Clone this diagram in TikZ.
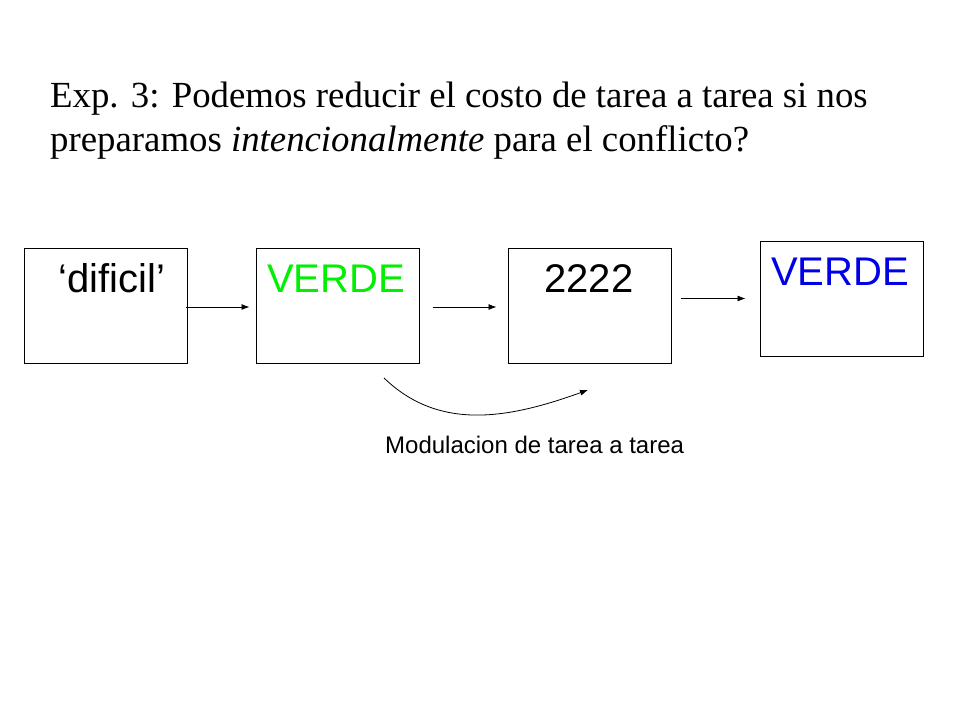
\documentclass[tikz,border=0pt]{standalone}
\usepackage{fontspec}
\setmainfont{Liberation Serif}
\setsansfont{Liberation Sans}
\usetikzlibrary{positioning,arrows.meta}
\definecolor{verdeC}{RGB}{0,240,0}
\definecolor{azulC}{RGB}{0,0,230}
\tikzset{
	caja/.style={draw,line width=1pt,minimum width=163pt,minimum height=115pt,inner sep=0pt},
	palabra/.style={anchor=base,inner sep=0pt,font=\sffamily\fontsize{40}{40}\selectfont},
	titulo/.style={anchor=base west,inner sep=0pt,font=\fontsize{36.8}{44}\selectfont},
}
\begin{document}
\begin{tikzpicture}[x=1pt,y=-1pt,>={Latex[length=8pt,width=6pt]}]
		\useasboundingbox (0,0) rectangle (960,720);
		\node[titulo] (tit1) at (50,107) {Exp. 3: Podemos reducir el costo de tarea a tarea si nos};
		\node[titulo] (tit2) at (50,151) {preparamos \textit{intencionalmente} para el conflicto?};
		\node[caja] (b1) at (105.5,305.5) {};
		\node[caja] (b2) at (337.5,305.5) {};
		\node[caja] (b3) at (589.5,305.5) {};
		\node[caja] (b4) at (841.5,298.5) {};
		\node[palabra] (w1) at (112,292) {‘dificil’};
		\node[palabra,text=verdeC] (w2) at (336,292) {VERDE};
		\node[palabra] (w3) at (589,292) {2222};
		\node[palabra,text=azulC] (w4) at (840,285) {VERDE};
		\draw[->,line width=0.8pt] ([xshift=-2pt,yshift=-1.5pt]b1.east) -- ([xshift=-6pt,yshift=-1.5pt]b2.west);
		\draw[->,line width=0.8pt] ([xshift=13pt,yshift=-1.5pt]b2.east) -- ([xshift=-11pt,yshift=-1.5pt]b3.west);
		\draw[->,line width=0.8pt] ([xshift=9pt]b3.east |- b4.west) -- ([xshift=-14pt]b4.west);
		\coordinate (m1) at (384,378);
		\coordinate (m2) at (588,390);
		\draw[->,line width=0.8pt] (m1) .. controls (440,432) and (510,418) .. (m2);
		\node[anchor=base west,inner sep=0pt,font=\sffamily\fontsize{24}{24}\selectfont] (mod) at (385,453) {Modulacion de tarea a tarea};
	\end{tikzpicture}
\end{document}
